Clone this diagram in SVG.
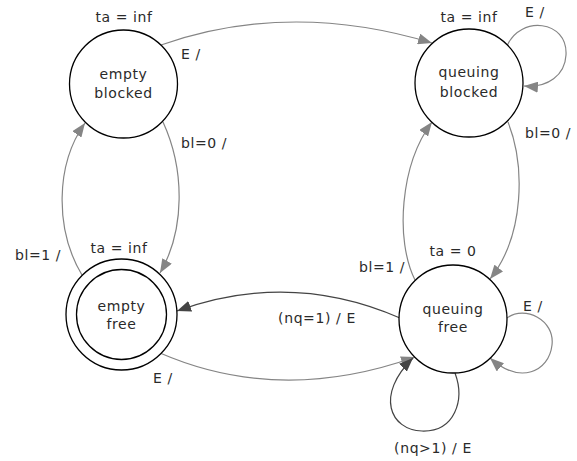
<svg xmlns="http://www.w3.org/2000/svg" width="577" height="461" viewBox="0 0 577 461">
<defs>
<style>
text{font-family:"DejaVu Sans","Verdana",sans-serif;font-size:14px;fill:#2a2a2a;letter-spacing:0.6px}
.m{text-anchor:middle}
.node{fill:#fff;stroke:#000;stroke-width:1.3}
.e{fill:none;stroke:#858585;stroke-width:1.2}
.d{fill:none;stroke:#444;stroke-width:1.2}
</style>
<marker id="ag" viewBox="0 0 14 11" refX="14" refY="5.5" markerWidth="14" markerHeight="11" markerUnits="userSpaceOnUse" orient="auto">
<path d="M0,0 L14,5.5 L0,11 Z" fill="#858585"/>
</marker>
<marker id="ad" viewBox="0 0 14 11" refX="14" refY="5.5" markerWidth="14" markerHeight="11" markerUnits="userSpaceOnUse" orient="auto">
<path d="M0,0 L14,5.5 L0,11 Z" fill="#444"/>
</marker>
</defs>
<rect width="577" height="461" fill="#fff"/>
<g id="connectors">
<path class="e" d="M161,45 Q290,0 432,43" marker-end="url(#ag)"/>
<path class="e" d="M507,46 C520,15 568,20 566,55 C565,75 548,88 524,86" marker-end="url(#ag)"/>
<path class="e" d="M163,122 C185,170 185,230 160,273" marker-end="url(#ag)"/>
<path class="e" d="M82,275 C55,230 55,165 85,123" marker-end="url(#ag)"/>
<path class="e" d="M508,122 C525,165 525,235 490,279" marker-end="url(#ag)"/>
<path class="e" d="M415,280 C395,240 400,165 432,122" marker-end="url(#ag)"/>
<path class="d" d="M400,318 Q290,270 177,311" marker-end="url(#ad)"/>
<path class="e" d="M160,353 Q280,405 415,357" marker-end="url(#ag)"/>
<path class="d" d="M455,373 C465,400 455,432 422,431 C390,430 375,395 413,358" marker-end="url(#ad)"/>
<path class="e" d="M507,318 C525,305 555,320 552,345 C549,372 520,385 490,358" marker-end="url(#ag)"/>
<text class="m" x="191" y="59">E /</text>
<text class="m" x="204" y="148">bl=0 /</text>
<text class="m" x="38" y="260">bl=1 /</text>
<text class="m" x="535" y="17">E /</text>
<text class="m" x="548" y="138">bl=0 /</text>
<text class="m" x="382" y="272">bl=1 /</text>
<text class="m" x="317" y="323">(nq=1) / E</text>
<text class="m" x="163" y="383">E /</text>
<text class="m" x="533" y="311">E /</text>
<text class="m" x="433" y="453">(nq&gt;1) / E</text>
</g>
<g id="empty_blocked">
<circle class="node" cx="123.5" cy="84" r="54"/>
<text class="m" x="123.5" y="79">empty</text>
<text class="m" x="123.5" y="98">blocked</text>
<text class="m" x="124" y="22">ta = inf</text>
</g>
<g id="queuing_blocked">
<circle class="node" cx="469" cy="83" r="54"/>
<text class="m" x="469" y="77">queuing</text>
<text class="m" x="469" y="97">blocked</text>
<text class="m" x="469" y="22">ta = inf</text>
</g>
<g id="empty_free">
<circle class="node" cx="121.5" cy="314.5" r="55.5"/>
<circle class="node" cx="121.5" cy="314.5" r="45"/>
<text class="m" x="121.5" y="311">empty</text>
<text class="m" x="121.5" y="329">free</text>
<text class="m" x="119" y="253">ta = inf</text>
</g>
<g id="queuing_free">
<circle class="node" cx="453" cy="319" r="54"/>
<text class="m" x="453" y="314">queuing</text>
<text class="m" x="453" y="332">free</text>
<text class="m" x="453" y="256">ta = 0</text>
</g>
</svg>
